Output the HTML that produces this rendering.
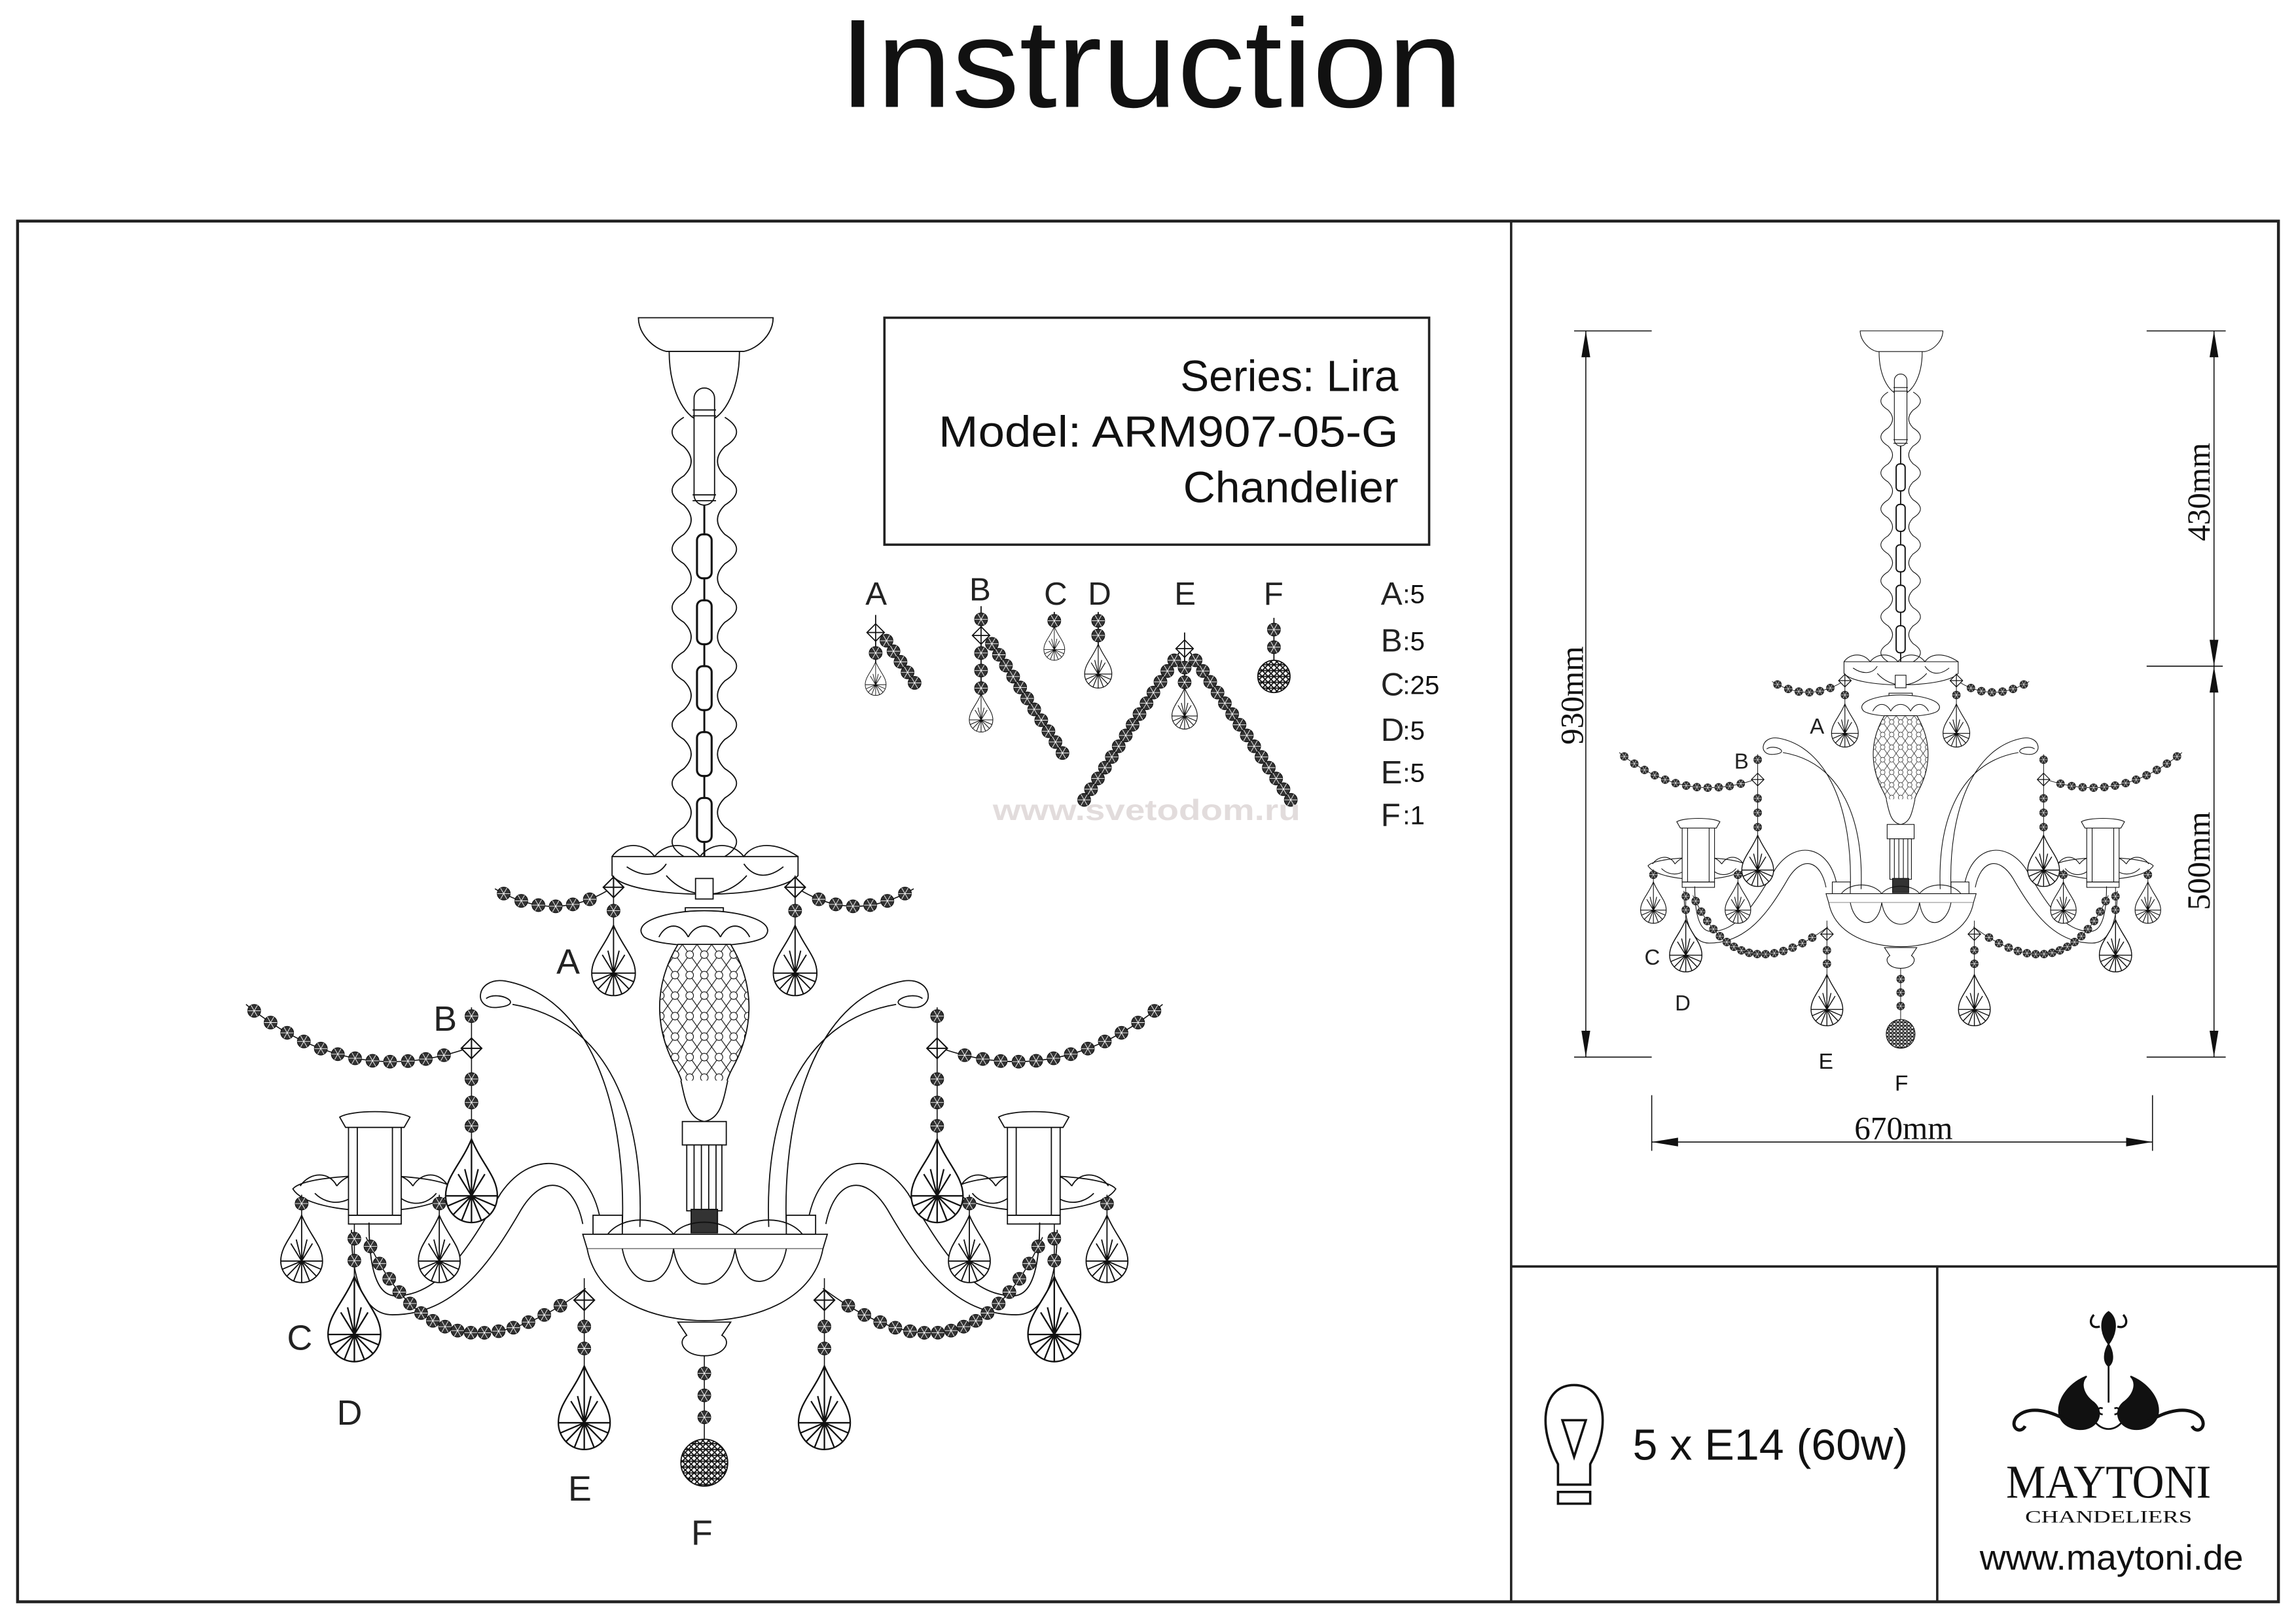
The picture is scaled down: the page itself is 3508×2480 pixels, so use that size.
<!DOCTYPE html>
<html><head><meta charset="utf-8"><style>
html,body{margin:0;padding:0;background:#fff;}
svg{display:block;}
</style></head><body>
<svg xmlns="http://www.w3.org/2000/svg" xmlns:xlink="http://www.w3.org/1999/xlink" width="3508" height="2480" viewBox="0 0 1568 1108.5">
<defs>
<pattern id="diam" width="10" height="14" patternUnits="userSpaceOnUse" x="456" y="645">
<rect width="10" height="14" fill="#fff"/>
<path d="M0,0 L10,14 M10,0 L0,14" stroke="#111" stroke-width="0.5" fill="none"/>
<circle cx="5" cy="7" r="2.6" fill="#fff" stroke="#111" stroke-width="0.5"/>
</pattern>
<pattern id="hatch" width="4" height="4" patternUnits="userSpaceOnUse">
<rect width="4" height="4" fill="#fff"/>
<path d="M0,0 L4,4 M4,0 L0,4 M0,2 L4,2" stroke="#111" stroke-width="0.8"/>
</pattern>
<g id="bd"><circle r="4.4" fill="#333" stroke="#111" stroke-width="0.5"/><path d="M-4.4,0 L4.4,0 M-2.2,-3.8 L2.2,3.8 M2.2,-3.8 L-2.2,3.8" stroke="#fff" stroke-width="0.4"/></g>
<path id="dm" d="M0,-7 L7,0 L0,7 L-7,0 Z M-7,0 L7,0 M0,-7 L0,7" fill="#fff" stroke="#111" stroke-width="0.9"/>
<g id="dp" fill="none" stroke="#111" stroke-width="0.9">
<path d="M0,0 C-6.2,15 -15.5,22.5 -15.5,34 A15.5,16 0 0 0 15.5,34 C15.5,22.5 6.2,15 0,0 Z" fill="#fff"/>
<path d="M-15.5,34 L15.5,34 M0,0 L0,50 M0,34 L14.3,40.1 M0,34 L11,45.3 M0,34 L5.9,48.8 M0,34 L-5.9,48.8 M0,34 L-11,45.3 M0,34 L-14.3,40.1 M0,34 L-8,21 M0,34 L-4,18 M0,34 L4,18 M0,34 L8,21"/>
</g>
<g id="genL">
 <path d="M338,607 Q380,632 420,605 M168,686 Q240,745 322,715 M250,845 Q300,955 400,880" fill="none" stroke="#111" stroke-width="0.7"/>
 <use xlink:href="#bd" x="344" y="610.3"/><use xlink:href="#bd" x="356" y="615.3"/><use xlink:href="#bd" x="367.7" y="618.2"/><use xlink:href="#bd" x="379.5" y="619"/><use xlink:href="#bd" x="391.2" y="617.7"/><use xlink:href="#bd" x="402.8" y="614.2"/>
 <use xlink:href="#bd" x="173.6" y="690.4"/><use xlink:href="#bd" x="184.8" y="698.4"/><use xlink:href="#bd" x="196.1" y="705.4"/><use xlink:href="#bd" x="207.5" y="711.3"/><use xlink:href="#bd" x="219.1" y="716.2"/><use xlink:href="#bd" x="230.7" y="720"/><use xlink:href="#bd" x="242.5" y="722.8"/><use xlink:href="#bd" x="254.4" y="724.5"/><use xlink:href="#bd" x="266.4" y="725.1"/><use xlink:href="#bd" x="278.6" y="724.7"/><use xlink:href="#bd" x="290.8" y="723.3"/><use xlink:href="#bd" x="303.2" y="720.7"/>
 <use xlink:href="#bd" x="253" y="851.3"/><use xlink:href="#bd" x="259.2" y="863"/><use xlink:href="#bd" x="265.8" y="873.4"/><use xlink:href="#bd" x="272.7" y="882.5"/><use xlink:href="#bd" x="280" y="890.3"/><use xlink:href="#bd" x="287.6" y="896.8"/><use xlink:href="#bd" x="295.6" y="902.1"/><use xlink:href="#bd" x="303.9" y="906.1"/><use xlink:href="#bd" x="312.5" y="908.8"/><use xlink:href="#bd" x="321.5" y="910.2"/><use xlink:href="#bd" x="330.8" y="910.3"/><use xlink:href="#bd" x="340.5" y="909.2"/><use xlink:href="#bd" x="350.6" y="906.8"/><use xlink:href="#bd" x="360.9" y="903"/><use xlink:href="#bd" x="371.7" y="898.1"/><use xlink:href="#bd" x="382.7" y="891.8"/>
 <path d="M419,598 L419,640 M322,688 L322,785 M206,816 L206,832 M300,816 L300,832 M242,836 L242,875 M399,873 L399,935" stroke="#111" stroke-width="0.7"/>
 <use xlink:href="#dm" x="419" y="606"/><use xlink:href="#bd" x="419" y="622"/><use xlink:href="#dp" transform="translate(419,632) scale(0.96)"/>
 <use xlink:href="#bd" x="322" y="694"/><use xlink:href="#dm" x="322" y="716"/><use xlink:href="#bd" x="322" y="737"/><use xlink:href="#bd" x="322" y="753"/><use xlink:href="#bd" x="322" y="769"/><use xlink:href="#dp" transform="translate(322,778) scale(1.14)"/>
 <use xlink:href="#bd" x="206" y="822"/><use xlink:href="#dp" transform="translate(206,830) scale(0.92)"/>
 <use xlink:href="#bd" x="300" y="822"/><use xlink:href="#dp" transform="translate(300,830) scale(0.92)"/>
 <use xlink:href="#bd" x="242" y="846"/><use xlink:href="#bd" x="242" y="861"/><use xlink:href="#dp" transform="translate(242,872) scale(1.16)"/>
 <use xlink:href="#dm" x="399" y="888"/><use xlink:href="#bd" x="399" y="906"/><use xlink:href="#bd" x="399" y="921"/><use xlink:href="#dp" transform="translate(399,933) scale(1.14)"/>
</g>
<g id="ch" fill="none" stroke="#111" stroke-width="0.8">
 <path d="M436,217 L528,217 C528,228 518,238 508,240 L455,240 C446,238 436,228 436,217 Z" fill="#fff"/>
 <path d="M457,240 C457,270 470,288 481,288 C492,288 505,270 505,240"/>
 <path d="M467,285 q-16,10 0,20 q10,10 0,20 q-16,10 0,20 q10,10 0,20 q-16,10 0,20 q10,10 0,20 q-16,10 0,20 q10,10 0,20 q-16,10 0,20 q10,10 0,20 q-16,10 0,20 q10,10 0,20 q-16,10 0,20 q10,10 0,20 q-16,10 0,20"/>
 <path d="M495,285 q16,10 0,20 q-10,10 0,20 q16,10 0,20 q-10,10 0,20 q16,10 0,20 q-10,10 0,20 q16,10 0,20 q-10,10 0,20 q16,10 0,20 q-10,10 0,20 q16,10 0,20 q-10,10 0,20 q16,10 0,20 q-10,10 0,20 q16,10 0,20"/>
 <rect x="474" y="265" width="14" height="80" rx="7" fill="#fff"/>
 <path d="M473,280 L489,280 M473,284 L489,284 M473,338 L489,338 M473,342 L489,342"/>
 <path d="M481,345 L481,585" stroke-width="1.3"/>
 <g fill="#fff" stroke-width="1.4"><rect x="476" y="365" width="10" height="30" rx="4"/><rect x="476" y="410" width="10" height="30" rx="4"/><rect x="476" y="455" width="10" height="30" rx="4"/><rect x="476" y="500" width="10" height="30" rx="4"/><rect x="476" y="545" width="10" height="30" rx="4"/></g>
 <path d="M418,585 L545,585 L545,598 C530,615 432,615 418,598 Z" fill="#fff"/>
 <path d="M418,585 C425,575 440,575 447,585 C455,575 470,575 478,585 C486,575 500,575 508,585 C515,575 530,575 545,585"/>
 <path d="M428,592 C440,600 450,598 455,590 M508,590 C515,600 525,600 535,592 M455,598 C470,615 495,615 510,598"/>
 <rect x="475" y="600" width="12" height="14" fill="#fff"/>
 <path d="M468,620 L494,620 L494,624 L468,624 Z"/>
 <path d="M440,640 C430,630 455,622 481,622 C507,622 532,630 522,640 C510,648 452,648 440,640 Z" fill="#fff"/>
 <path d="M450,640 C455,630 465,630 470,640 M470,640 C475,630 487,630 492,640 M492,640 C497,630 507,630 512,640"/>
 <path d="M463,645 C445,675 448,705 462,730 C470,745 468,760 481,766 C494,760 492,745 500,730 C514,705 517,675 499,645 Z" fill="url(#diam)"/>
 <path d="M465,738 C468,752 470,764 481,766 C492,764 494,752 497,738" fill="#fff"/>
 <rect x="466" y="766" width="30" height="16" fill="#fff"/>
 <rect x="469" y="782" width="24" height="45" fill="#fff"/>
 <path d="M474,782 L474,827 M479,782 L479,827 M484,782 L484,827 M489,782 L489,827"/>
 <rect x="472" y="826" width="18" height="16" fill="#333"/>
 <g id="armsL">
  <path d="M425,838 C428,750 400,680 345,670 C325,667 322,690 340,688 C360,686 340,676 332,682"/>
  <path d="M437,838 C440,760 415,697 350,686"/>
  <path d="M410,833 C402,790 365,782 342,815 C318,855 300,885 270,885 C257,885 252,865 252,835"/>
  <path d="M398,836 C392,806 372,800 356,826 C334,864 310,898 268,898 C248,898 240,872 240,840"/>
  <rect x="405" y="830" width="20" height="13" fill="#fff"/>
  <path d="M200,812 C210,800 300,800 310,812 C300,832 212,832 200,812 Z" fill="#fff"/>
  <path d="M205,810 C212,800 225,800 230,810 M230,810 C238,800 250,800 256,810 M256,810 C262,800 275,800 282,810 M282,810 C288,800 300,800 306,810"/>
  <path d="M215,815 C225,825 240,822 245,812 M268,812 C275,824 290,825 298,815"/>
  <rect x="238" y="768" width="36" height="62" fill="#fff"/>
  <path d="M244,768 L244,830 M268,768 L268,830"/>
  <path d="M232,763 C240,758 272,758 280,763 L276,770 L236,770 Z" fill="#fff"/>
  <rect x="238" y="830" width="36" height="6"/>
 </g>
 <use xlink:href="#armsL" transform="translate(962,0) scale(-1,1)"/>
 <path d="M398,843 L565,843 L562,853 L401,853 Z" fill="#fff"/>
 <path d="M401,853 C408,890 450,902 481,902 C512,902 555,890 562,853" fill="#fff"/>
 <path d="M415,843 C425,830 450,830 460,843 M460,843 C468,832 494,832 502,843 M502,843 C512,830 538,830 548,843"/>
 <path d="M425,853 C430,880 455,885 460,853 M460,853 C465,885 497,885 502,853 M502,853 C507,885 532,880 537,853"/>
 <path d="M463,903 L499,903 L493,912 C500,916 495,926 481,926 C467,926 462,916 469,912 Z" fill="#fff"/>
 <use xlink:href="#genL"/>
 <use xlink:href="#genL" transform="translate(962,0) scale(-1,1)"/>
 <path d="M481,926 L481,985" stroke-width="0.7"/>
 <use xlink:href="#bd" x="481" y="938"/><use xlink:href="#bd" x="481" y="953"/><use xlink:href="#bd" x="481" y="968"/>
 <circle cx="481" cy="999" r="16" fill="url(#hatch)"/>
 <g font-family="Liberation Sans, sans-serif" font-size="24" fill="#222" stroke="none">
  <text x="380" y="665">A</text><text x="296" y="704">B</text><text x="196" y="922">C</text><text x="230" y="973">D</text>
 </g>
</g>
</defs>

<text x="573" y="73" font-family="Liberation Sans, sans-serif" font-size="86" textLength="426" lengthAdjust="spacingAndGlyphs" fill="#111">Instruction</text>

<g fill="none" stroke="#222">
<rect x="12" y="151" width="1544" height="943" stroke-width="2"/>
<path d="M1032,151 L1032,1094 M1032,865 L1556,865 M1323,865 L1323,1094" stroke-width="1.6"/>
</g>

<rect x="604" y="217" width="372" height="155" fill="none" stroke="#222" stroke-width="1.6"/>
<g font-family="Liberation Sans, sans-serif" font-size="30" fill="#111">
<text x="806" y="267" textLength="149" lengthAdjust="spacingAndGlyphs">Series: Lira</text>
<text x="641" y="305" textLength="314" lengthAdjust="spacingAndGlyphs">Model: ARM907-05-G</text>
<text x="808" y="343" textLength="147" lengthAdjust="spacingAndGlyphs">Chandelier</text>
</g>

<use xlink:href="#ch"/>
<g font-family="Liberation Sans, sans-serif" font-size="24" fill="#222">
<text x="388" y="1025">E</text><text x="472" y="1055">F</text>
</g>

<g fill="none" stroke="#111" stroke-width="0.8">
<path d="M598,420 L598,455 M603,434 L627,470 M670,414 L670,475 M675,436 L728,518 M720,418 L720,430 M750,418 L750,442 M809,432 L809,472 M738,550 L809,440 L884,550 M870,422 L870,452"/>
</g>
<use xlink:href="#dm" transform="translate(598,432) scale(0.85)"/><use xlink:href="#bd" x="598" y="446"/><use xlink:href="#dp" transform="translate(598,452) scale(0.46)"/>
<use xlink:href="#bd" x="605.4" y="437.6"/><use xlink:href="#bd" x="610.2" y="444.8"/><use xlink:href="#bd" x="615" y="452"/><use xlink:href="#bd" x="619.8" y="459.2"/><use xlink:href="#bd" x="624.6" y="466.4"/>
<use xlink:href="#bd" x="670" y="423"/><use xlink:href="#dm" transform="translate(670,434) scale(0.85)"/><use xlink:href="#bd" x="670" y="446"/><use xlink:href="#bd" x="670" y="458"/><use xlink:href="#bd" x="670" y="470"/><use xlink:href="#dp" transform="translate(670,474) scale(0.52)"/>
<use xlink:href="#bd" x="677.4" y="439.7"/><use xlink:href="#bd" x="682.2" y="447.2"/><use xlink:href="#bd" x="687" y="454.6"/><use xlink:href="#bd" x="691.9" y="462.1"/><use xlink:href="#bd" x="696.7" y="469.5"/><use xlink:href="#bd" x="701.5" y="477"/><use xlink:href="#bd" x="706.3" y="484.5"/><use xlink:href="#bd" x="711.1" y="491.9"/><use xlink:href="#bd" x="716" y="499.4"/><use xlink:href="#bd" x="720.8" y="506.8"/><use xlink:href="#bd" x="725.6" y="514.3"/>
<use xlink:href="#bd" x="720" y="424"/><use xlink:href="#dp" transform="translate(720,428) scale(0.46)"/>
<use xlink:href="#bd" x="750" y="424"/><use xlink:href="#bd" x="750" y="434"/><use xlink:href="#dp" transform="translate(750,440) scale(0.6)"/>
<use xlink:href="#bd" x="740.4" y="546.3"/><use xlink:href="#bd" x="745.1" y="539"/><use xlink:href="#bd" x="749.8" y="531.7"/><use xlink:href="#bd" x="754.6" y="524.3"/><use xlink:href="#bd" x="759.3" y="517"/><use xlink:href="#bd" x="764" y="509.7"/><use xlink:href="#bd" x="768.8" y="502.3"/><use xlink:href="#bd" x="773.5" y="495"/><use xlink:href="#bd" x="778.2" y="487.7"/><use xlink:href="#bd" x="783" y="480.3"/><use xlink:href="#bd" x="787.7" y="473"/><use xlink:href="#bd" x="792.5" y="465.7"/><use xlink:href="#bd" x="797.2" y="458.3"/><use xlink:href="#bd" x="801.9" y="451"/>
<use xlink:href="#bd" x="816.5" y="451"/><use xlink:href="#bd" x="821.5" y="458.3"/><use xlink:href="#bd" x="826.5" y="465.7"/><use xlink:href="#bd" x="831.5" y="473"/><use xlink:href="#bd" x="836.5" y="480.3"/><use xlink:href="#bd" x="841.5" y="487.7"/><use xlink:href="#bd" x="846.5" y="495"/><use xlink:href="#bd" x="851.5" y="502.3"/><use xlink:href="#bd" x="856.5" y="509.7"/><use xlink:href="#bd" x="861.5" y="517"/><use xlink:href="#bd" x="866.5" y="524.3"/><use xlink:href="#bd" x="871.5" y="531.7"/><use xlink:href="#bd" x="876.5" y="539"/><use xlink:href="#bd" x="881.5" y="546.3"/>
<use xlink:href="#dm" transform="translate(809,443) scale(0.85)"/><use xlink:href="#bd" x="809" y="456"/><use xlink:href="#bd" x="809" y="466"/><use xlink:href="#dp" transform="translate(809,470) scale(0.56)"/>
<use xlink:href="#bd" x="870" y="430"/><use xlink:href="#bd" x="870" y="442"/><circle cx="870" cy="462" r="11" fill="url(#hatch)" stroke="#111" stroke-width="0.8"/>

<g font-family="Liberation Sans, sans-serif" font-size="22" fill="#222">
<text x="591" y="413">A</text><text x="662" y="410">B</text><text x="713" y="413">C</text><text x="743" y="413">D</text><text x="802" y="413">E</text><text x="863" y="413">F</text>
<text x="943" y="413">A</text><text x="943" y="445">B</text><text x="943" y="475">C</text><text x="943" y="506">D</text><text x="943" y="535">E</text><text x="943" y="564">F</text>
</g>
<g font-family="Liberation Sans, sans-serif" font-size="18" fill="#111">
<text x="958" y="412">:5</text><text x="958" y="444">:5</text><text x="958" y="474">:25</text><text x="958" y="505">:5</text><text x="958" y="534">:5</text><text x="958" y="563">:1</text>
</g>
<text x="678" y="560" font-family="Liberation Sans, sans-serif" font-weight="bold" font-size="20" textLength="210" lengthAdjust="spacingAndGlyphs" fill="#e2dcdc">www.svetodom.ru</text>

<use xlink:href="#ch" transform="translate(1298,226) scale(0.614) translate(-481,-217)"/>
<g font-family="Liberation Sans, sans-serif" font-size="15" fill="#111">
<text x="1242" y="730">E</text><text x="1294" y="745">F</text>
</g>
<g fill="none" stroke="#111" stroke-width="0.7">
<path d="M1075,226 L1128,226 M1075,722 L1128,722 M1083,226 L1083,722"/>
<path d="M1466,226 L1520,226 M1466,455 L1518,455 M1466,722 L1520,722 M1512,226 L1512,722"/>
<path d="M1128,748 L1128,786 M1470,748 L1470,786 M1128,780 L1470,780"/>
</g>
<g fill="#111">
<path d="M1083,226 L1080,244 L1086,244 Z M1083,722 L1080,704 L1086,704 Z"/>
<path d="M1512,226 L1509,244 L1515,244 Z M1512,455 L1509,437 L1515,437 Z M1512,455 L1509,473 L1515,473 Z M1512,722 L1509,704 L1515,704 Z"/>
<path d="M1128,780 L1146,777 L1146,783 Z M1470,780 L1452,777 L1452,783 Z"/>
</g>
<g font-family="Liberation Serif, serif" font-size="22" fill="#111" text-anchor="middle">
<text transform="translate(1081,475) rotate(-90)">930mm</text>
<text transform="translate(1509,336) rotate(-90)">430mm</text>
<text transform="translate(1509,588) rotate(-90)">500mm</text>
<text x="1300" y="778">670mm</text>
</g>

<g fill="none" stroke="#111" stroke-width="1.6">
<path d="M1064,1000 C1050,975 1053,946 1075,946 C1097,946 1100,975 1086,1000 L1086,1014 L1064,1014 Z"/>
<path d="M1067,970 L1083,970 L1075,995 Z"/>
<rect x="1064" y="1019" width="22" height="8"/>
</g>
<text x="1115" y="997" font-family="Liberation Sans, sans-serif" font-size="30" textLength="188" lengthAdjust="spacingAndGlyphs" fill="#111">5 x E14 (60w)</text>

<g fill="#111" stroke="#111">
<path d="M1440,905 L1440,958" stroke-width="1.2" fill="none"/>
<path d="M1440,896 C1434,900 1434,910 1440,918 C1446,910 1446,900 1440,896 Z"/>
<path d="M1430,898 C1426,902 1428,908 1434,906 M1450,898 C1454,902 1452,908 1446,906" fill="none" stroke-width="1.5"/>
<path d="M1440,918 C1437,923 1436,930 1440,933 C1444,930 1443,923 1440,918 Z"/>
<path d="M1425,940 C1405,948 1398,972 1418,976 C1432,978 1438,965 1430,958 C1423,953 1420,945 1425,940 Z"/>
<path d="M1455,940 C1475,948 1482,972 1462,976 C1448,978 1442,965 1450,958 C1457,953 1460,945 1455,940 Z"/>
<path d="M1418,974 C1400,962 1385,960 1377,968 C1372,975 1380,980 1383,974 M1462,974 C1480,962 1495,960 1503,968 C1508,975 1500,980 1497,974" fill="none" stroke-width="2.2"/>
<path d="M1430,970 C1435,978 1445,978 1450,970 M1436,962 C1432,960 1432,966 1436,966 M1444,962 C1448,960 1448,966 1444,966" fill="none" stroke-width="1.2"/>
</g>
<text x="1370" y="1023" font-family="Liberation Serif, serif" font-size="32" textLength="140" lengthAdjust="spacingAndGlyphs" fill="#111">MAYTONI</text>
<text x="1383" y="1040" font-family="Liberation Serif, serif" font-size="12" textLength="114" lengthAdjust="spacingAndGlyphs" fill="#111">CHANDELIERS</text>
<text x="1352" y="1072" font-family="Liberation Sans, sans-serif" font-size="24" textLength="180" lengthAdjust="spacingAndGlyphs" fill="#111">www.maytoni.de</text>
</svg>
</body></html>
